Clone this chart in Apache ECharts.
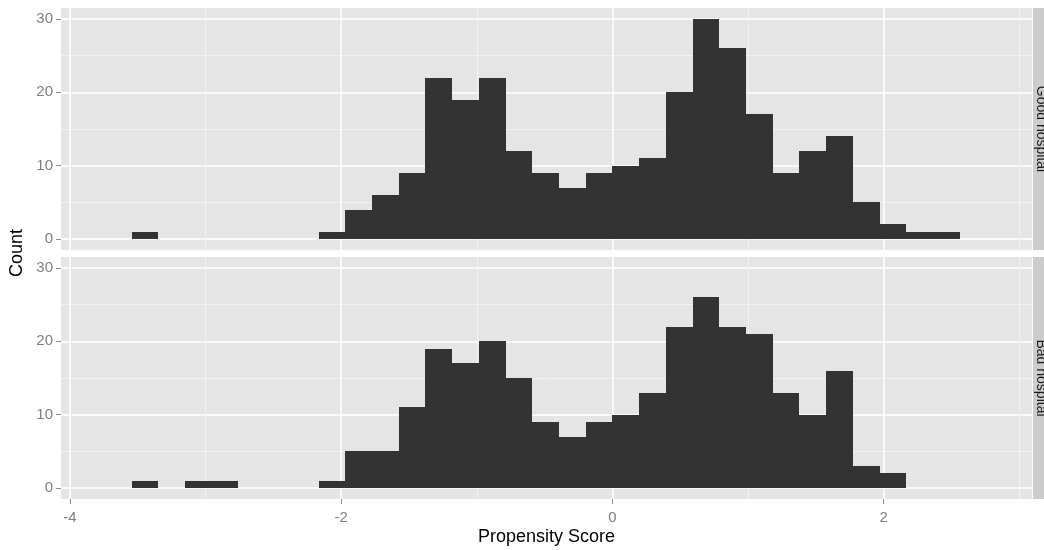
<!DOCTYPE html>
<html>
<head>
<meta charset="utf-8">
<script src="https://cdn.jsdelivr.net/npm/echarts@6/dist/echarts.min.js"></script>
<style>html,body{margin:0;padding:0;background:#fff;}#c{width:1044px;height:550px;}</style>
</head>
<body>
<div id="c"></div>
<script>
// Histogram bins (left edge of each bin) and bin width
const binStart = [-3.546,-3.349,-3.152,-2.955,-2.758,-2.561,-2.364,-2.167,-1.970,-1.773,-1.576,-1.379,-1.182,-0.985,-0.788,-0.591,-0.394,-0.197,0.000,0.197,0.394,0.591,0.788,0.985,1.182,1.379,1.576,1.773,1.970,2.167,2.364];
const binWidth = 0.197;
const goodCounts = [1,0,0,0,0,0,0,1,4,6,9,22,19,22,12,9,7,9,10,11,20,30,26,17,9,12,14,5,2,1,1];
const badCounts  = [1,0,1,1,0,0,0,1,5,5,11,19,17,20,15,9,7,9,10,13,22,26,22,21,13,10,16,3,2,0,0];
const panelNames = ['Good hospital', 'Bad hospital'];
const xTicks = [-4,-2,0,2];
const xMinor = [-3,-1,1,3];
const yTicks = [0,10,20,30];
const yMinor = [5,15,25];

const chart = echarts.init(document.getElementById('c'));

function toData(counts){
  return counts.map((c,i)=>[binStart[i], binStart[i]+binWidth, c]);
}
function renderBar(params, api){
  const x0 = api.value(0), x1 = api.value(1), y = api.value(2);
  if (!y) return null;
  const p0 = api.coord([x0, 0]);
  const p1 = api.coord([x1, y]);
  const left = Math.round(p0[0]), right = Math.round(p1[0]);
  const top = Math.round(p1[1]), bottom = Math.round(p0[1]);
  return {
    type: 'rect',
    shape: {x: left, y: top, width: right-left, height: bottom-top},
    style: {fill: '#333333'}
  };
}

const GL = 61, GW = 971, GH = 242;
const tops = [8, 257];
const grids = tops.map(t=>({left: GL, top: t, width: GW, height: GH, show: true, backgroundColor: '#E5E5E5', borderWidth: 0, containLabel: false, outerBoundsMode: 'none'}));

const FONT = 'Liberation Sans, Arial, sans-serif';
const xMin = -4.066, xMax = 3.094, yMin = -1.5, yMax = 31.5;
const xAxes = [], yAxes = [];
[0,1].forEach(g=>{
  // minor x
  xAxes.push({type:'value', gridIndex:g, min:xMin, max:xMax, position:'bottom', offset:0,
    axisLine:{show:false, onZero:false}, axisLabel:{show:false},
    axisTick:{show:false, customValues:xMinor},
    splitLine:{show:true, lineStyle:{color:'#F2F2F2', width:1}}});
  // major x
  xAxes.push({type:'value', gridIndex:g, min:xMin, max:xMax, position:'bottom', offset:0,
    axisLine:{show:false, onZero:false},
    axisLabel:{show:g===1, customValues:xTicks, color:'#7F7F7F', fontSize:15, margin:11, fontFamily:FONT},
    axisTick:{show:g===1, customValues:xTicks, length:5, lineStyle:{color:'#8C8C8C'}},
    splitLine:{show:true, lineStyle:{color:'#FFFFFF', width:1.5}},
    name: g===1 ? 'Propensity Score' : '', nameLocation:'middle', nameGap:38,
    nameTextStyle:{color:'#000', fontSize:18, verticalAlign:'middle', fontFamily:FONT}});
  yAxes.push({type:'value', gridIndex:g, min:yMin, max:yMax, position:'left', offset:0,
    axisLine:{show:false, onZero:false}, axisLabel:{show:false},
    axisTick:{show:false, customValues:yMinor},
    splitLine:{show:true, lineStyle:{color:'#F2F2F2', width:1}}});
  yAxes.push({type:'value', gridIndex:g, min:yMin, max:yMax, position:'left', offset:0,
    axisLine:{show:false, onZero:false},
    axisLabel:{show:true, customValues:yTicks, color:'#7F7F7F', fontSize:15, margin:8, fontFamily:FONT},
    axisTick:{show:true, customValues:yTicks, length:5, lineStyle:{color:'#8C8C8C'}},
    splitLine:{show:true, lineStyle:{color:'#FFFFFF', width:1.5}}});
});

const series = [goodCounts, badCounts].map((counts, g)=>({
  type:'custom', xAxisIndex: g*2+1, yAxisIndex: g*2+1,
  renderItem: renderBar, encode:{x:[0,1], y:2},
  data: toData(counts), silent:true, animation:false
}));

const graphic = [];
tops.forEach((t, g)=>{
  graphic.push({type:'rect', left: GL+GW+1, top: t, shape:{width: 20, height: GH}, style:{fill:'#CCCCCC'}, silent:true});
  graphic.push({type:'text', x: 1041, y: t + GH/2, rotation: -Math.PI/2,
    style:{text: panelNames[g], fill:'#1a1a1a', font:'14px "Liberation Sans", Arial, sans-serif', align:'center', verticalAlign:'middle'}});
});
graphic.push({type:'text', x: 17, y: 253, rotation: Math.PI/2,
  style:{text:'Count', fill:'#000', font:'18px "Liberation Sans", Arial, sans-serif', align:'center', verticalAlign:'middle'}});

chart.setOption({
  animation:false,
  grid: grids,
  xAxis: xAxes,
  yAxis: yAxes,
  series: series,
  graphic: graphic
});
</script>
</body>
</html>
